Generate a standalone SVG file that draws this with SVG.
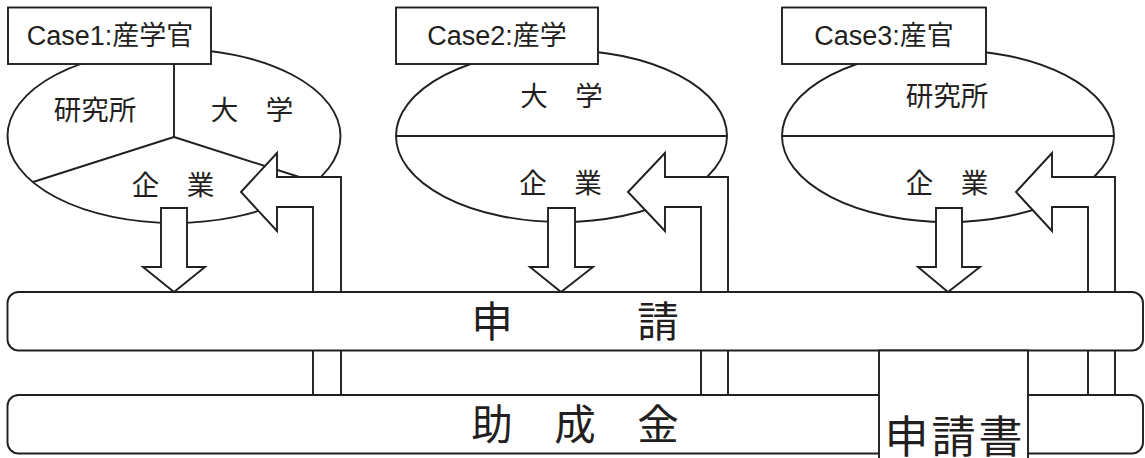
<svg xmlns="http://www.w3.org/2000/svg" width="1145" height="458" viewBox="0 0 1145 458">
<style>
.ln{fill:none;stroke:#231f20;stroke-width:1.9}
.wf{fill:#fff;stroke:#231f20;stroke-width:1.9;stroke-linejoin:miter}
.cj{font-family:"Noto Sans CJK JP","Noto Sans CJK SC",sans-serif;fill:#231f20;text-anchor:middle}
.lb{font-family:"Liberation Sans","Noto Sans CJK JP",sans-serif;font-size:27px;fill:#231f20;text-anchor:middle}
.s{font-size:27.5px}
.b{font-size:41.5px}
</style>
<rect width="1145" height="458" fill="#fff"/>
<g id="case1">
<ellipse class="wf" cx="174" cy="136" rx="166.5" ry="87"/>
<path class="ln" d="M174,64 L174,137 L33,182 M174,137 L315,182"/>
<text class="cj s" x="95" y="120">研究所</text>
<text class="cj s" x="252" y="120">大　学</text>
<text class="cj s" x="173" y="195">企　業</text>
<rect class="wf" x="8" y="7.5" width="203" height="56.5"/>
<text class="lb" x="110" y="45">Case1:産学官</text>
</g>
<g id="case2">
<ellipse class="wf" cx="561.5" cy="136" rx="165.5" ry="86"/>
<path class="ln" d="M396,136 L727,136"/>
<text class="cj s" x="561.5" y="106">大　学</text>
<text class="cj s" x="560.5" y="193">企　業</text>
<rect class="wf" x="396" y="7.5" width="202" height="56.5"/>
<text class="lb" x="497" y="45">Case2:産学</text>
</g>
<g id="case3">
<ellipse class="wf" cx="948" cy="136" rx="166" ry="86"/>
<path class="ln" d="M782,136 L1114,136"/>
<text class="cj s" x="947" y="106">研究所</text>
<text class="cj s" x="947" y="193">企　業</text>
<rect class="wf" x="782" y="7.5" width="204" height="56.5"/>
<text class="lb" x="884" y="45">Case3:産官</text>
</g>
<g id="connectors">
<polygon class="wf" points="161,208 187,208 187,267 205,267 174,292 143,267 161,267"/>
<polygon class="wf" points="548,208 575,208 575,267 593,267 561,292 530,267 548,267"/>
<polygon class="wf" points="936,208 962,208 962,267 980,267 948,292 918,267 936,267"/>
<polygon class="wf" points="241,192 277,153 277,177 341,177 341,395 313,395 313,207 277,207 277,231"/>
<polygon class="wf" points="628,192 665,153 665,177 728,177 728,395 701,395 701,207 665,207 665,231"/>
<polygon class="wf" points="1016,192 1052,153 1052,177 1115,177 1115,395 1088,395 1088,207 1052,207 1052,231"/>
</g>
<g id="shinsei">
<rect class="wf" x="7.5" y="292" width="1135.5" height="58.5" rx="11"/>
<text class="cj b" x="575" y="337">申　　　請</text>
</g>
<g id="joseikin">
<rect class="wf" x="7.5" y="395" width="1135.5" height="58.5" rx="11"/>
<text class="cj b" x="575" y="440">助　成　金</text>
</g>
<g id="shinseisho">
<rect class="wf" x="879" y="350.5" width="149" height="120"/>
<text class="cj" x="955" y="453" font-size="44" letter-spacing="3">申請書</text>
</g>
</svg>
